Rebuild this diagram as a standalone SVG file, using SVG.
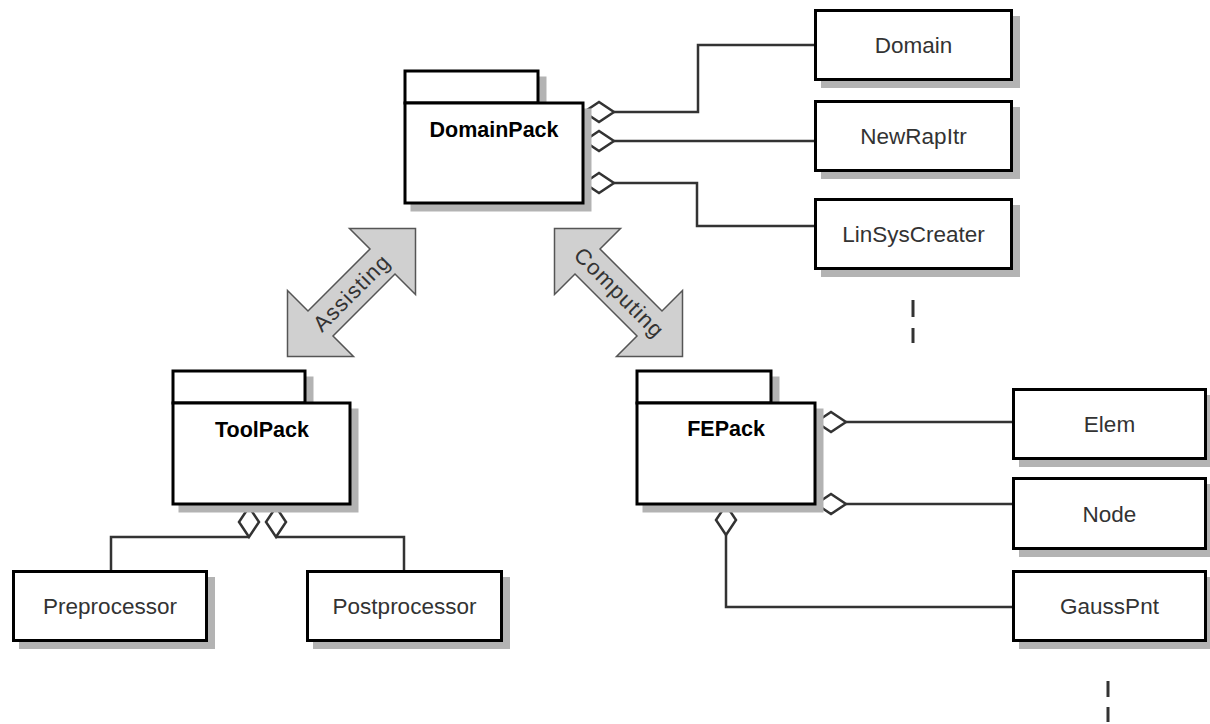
<svg xmlns="http://www.w3.org/2000/svg" width="1210" height="724" viewBox="0 0 1210 724">
<style>
.shadow{fill:#b3b3b3;stroke:#b3b3b3;stroke-width:3}
.box{fill:#fff;stroke:#000;stroke-width:3}
.lbl{font-family:"Liberation Sans",Arial,sans-serif;font-size:22.5px;fill:#333;text-anchor:middle}
.bold{font-family:"Liberation Sans",Arial,sans-serif;font-size:21.5px;font-weight:bold;fill:#000;text-anchor:middle}
.conn{fill:none;stroke:#333;stroke-width:2.5}
.dia{fill:#fff;stroke:#333;stroke-width:2.5}
.arrow{fill:#d0d0d0;stroke:#555;stroke-width:1.5}
.alabel{font-family:"Liberation Sans",Arial,sans-serif;font-size:22px;fill:#333;text-anchor:middle;letter-spacing:1.2px}
.dash{stroke:#333;stroke-width:3}
</style>
<defs>
<polygon id="dh" points="0,0 15,-10 30,0 15,10"/>
<polygon id="dv" points="0,0 10,15 0,30 -10,15"/>
</defs>

<g id="connectors">
<polyline class="conn" points="614,112 698,112 698,45 815.5,45"/>
<polyline class="conn" points="614,141 815.5,141"/>
<polyline class="conn" points="614,183 697,183 697,226 815.5,226"/>
<polyline class="conn" points="249,537 111,537 111,571.5"/>
<polyline class="conn" points="276,537 404,537 404,571.5"/>
<polyline class="conn" points="846,422 1013.5,422"/>
<polyline class="conn" points="846,504 1013.5,504"/>
<polyline class="conn" points="726,535 726,607 1013.5,607"/>
<use href="#dh" class="dia" x="584" y="112"/>
<use href="#dh" class="dia" x="584" y="141"/>
<use href="#dh" class="dia" x="584" y="183"/>
<use href="#dv" class="dia" x="249" y="507"/>
<use href="#dv" class="dia" x="276" y="507"/>
<use href="#dh" class="dia" x="816" y="422"/>
<use href="#dh" class="dia" x="816" y="504"/>
<use href="#dv" class="dia" x="726" y="505"/>
<line class="dash" x1="913" y1="300" x2="913" y2="317"/>
<line class="dash" x1="913" y1="328" x2="913" y2="343"/>
<line class="dash" x1="1108" y1="681" x2="1108" y2="697"/>
<line class="dash" x1="1108" y1="707" x2="1108" y2="722"/>
</g>

<g id="assisting">
<polygon class="arrow" points="415.5,228.5 415.5,294.5 395,274 333,336 353.5,356.5 287.5,356.5 287.5,290.5 308,311 370,249 349.5,228.5"/>
<text class="alabel" transform="translate(352,293) rotate(-45)" y="7">Assisting</text>
</g>
<g id="computing">
<polygon class="arrow" points="554.5,228.5 554.5,294.5 575,274 637,336 616.5,356.5 682.5,356.5 682.5,290.5 662,311 600,249 620.5,228.5"/>
<text class="alabel" transform="translate(619,293) rotate(45)" y="7">Computing</text>
</g>

<g id="DomainPack">
<g transform="translate(7,7)"><rect class="shadow" x="405" y="71" width="133" height="32"/><rect class="shadow" x="405" y="103" width="178" height="100"/></g>
<rect class="box" x="405" y="71" width="133" height="32"/>
<rect class="box" x="405" y="103" width="178" height="100"/>
<text class="bold" x="494" y="137">DomainPack</text>
</g>

<g id="ToolPack">
<g transform="translate(7,7)"><rect class="shadow" x="173" y="371" width="132" height="32"/><rect class="shadow" x="173" y="403" width="177" height="101"/></g>
<rect class="box" x="173" y="371" width="132" height="32"/>
<rect class="box" x="173" y="403" width="177" height="101"/>
<text class="bold" x="262" y="437">ToolPack</text>
</g>

<g id="FEPack">
<g transform="translate(7,7)"><rect class="shadow" x="637" y="371" width="134" height="32"/><rect class="shadow" x="637" y="403" width="178" height="101"/></g>
<rect class="box" x="637" y="371" width="134" height="32"/>
<rect class="box" x="637" y="403" width="178" height="101"/>
<text class="bold" x="726" y="436">FEPack</text>
</g>

<g id="Domain">
<rect class="shadow" x="822.5" y="17.5" width="196" height="69"/>
<rect class="box" x="815.5" y="10.5" width="196" height="69"/>
<text class="lbl" x="913.5" y="52.5">Domain</text>
</g>
<g id="NewRapItr">
<rect class="shadow" x="822.5" y="108.5" width="196" height="69"/>
<rect class="box" x="815.5" y="101.5" width="196" height="69"/>
<text class="lbl" x="913.5" y="144">NewRapItr</text>
</g>
<g id="LinSysCreater">
<rect class="shadow" x="822.5" y="206.5" width="196" height="69"/>
<rect class="box" x="815.5" y="199.5" width="196" height="69"/>
<text class="lbl" x="913.5" y="241.5">LinSysCreater</text>
</g>

<g id="Elem">
<rect class="shadow" x="1020.5" y="396.5" width="192" height="69"/>
<rect class="box" x="1013.5" y="389.5" width="192" height="69"/>
<text class="lbl" x="1109.5" y="432">Elem</text>
</g>
<g id="Node">
<rect class="shadow" x="1020.5" y="485.5" width="192" height="70"/>
<rect class="box" x="1013.5" y="478.5" width="192" height="70"/>
<text class="lbl" x="1109.5" y="521.5">Node</text>
</g>
<g id="GaussPnt">
<rect class="shadow" x="1020.5" y="578.5" width="192" height="69"/>
<rect class="box" x="1013.5" y="571.5" width="192" height="69"/>
<text class="lbl" x="1109.5" y="614">GaussPnt</text>
</g>

<g id="Preprocessor">
<rect class="shadow" x="20.5" y="578.5" width="193" height="69"/>
<rect class="box" x="13.5" y="571.5" width="193" height="69"/>
<text class="lbl" x="110" y="613.5">Preprocessor</text>
</g>
<g id="Postprocessor">
<rect class="shadow" x="314.5" y="578.5" width="194" height="69"/>
<rect class="box" x="307.5" y="571.5" width="194" height="69"/>
<text class="lbl" x="404.5" y="613.5">Postprocessor</text>
</g>
</svg>
